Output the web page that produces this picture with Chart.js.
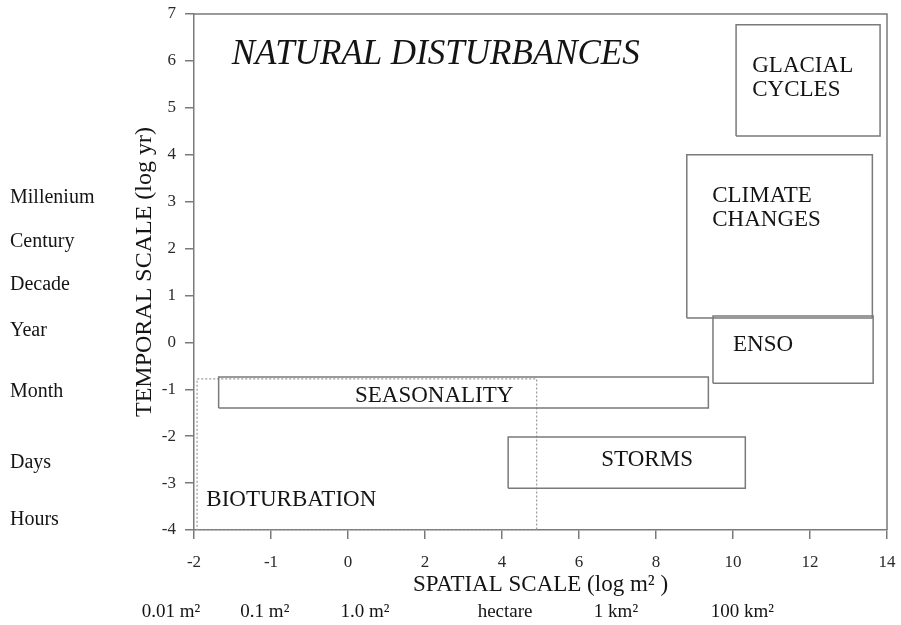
<!DOCTYPE html>
<html>
<head>
<meta charset="utf-8">
<script src="https://cdn.jsdelivr.net/npm/chart.js@4/dist/chart.umd.min.js"></script>
<style>
  html, body { margin: 0; padding: 0; background: #fff; }
  #wrap { width: 901px; height: 625px; }
</style>
</head>
<body>
<div id="wrap"><canvas id="disturbChart" width="901" height="625"></canvas></div>
<script>
// x axis is drawn in tick-index units; labels are not evenly spaced in log m2
const xTickLabels = ['-2', '-1', '0', '2', '4', '6', '8', '10', '12', '14'];

// boxes (x in tick-index units, y in log yr)
const boxNames = ['GLACIAL CYCLES', 'CLIMATE CHANGES', 'ENSO', 'SEASONALITY', 'STORMS', 'BIOTURBATION'];
const boxX0 = [7.04, 6.40, 6.74, 0.32, 4.08, 0.04];
const boxX1 = [8.91, 8.81, 8.82, 6.68, 7.16, 4.45];
const boxY0 = [4.40, 0.52, -0.87, -1.40, -3.11, -4.00];
const boxY1 = [6.77, 4.00, 0.56, -0.74, -2.02, -0.78];

// label text in each box and where it starts
const boxLabels = [['GLACIAL', 'CYCLES'], ['CLIMATE', 'CHANGES'], ['ENSO'], ['SEASONALITY'], ['STORMS'], ['BIOTURBATION']];
const boxLabelX = [7.25, 6.73, 7.00, 2.09, 5.29, 0.16];
const boxLabelY = [5.89, 3.12, -0.06, -1.15, -2.51, -3.36];

const chartTitle = 'NATURAL DISTURBANCES';
const chartTitleX = 0.49;
const chartTitleY = 6.13;

// time names at the far left
const timeNames = ['Millenium', 'Century', 'Decade', 'Year', 'Month', 'Days', 'Hours'];
const timeNameY = [3.08, 2.14, 1.22, 0.24, -1.06, -2.57, -3.79];

// area names under the x axis
const areaNames = ['0.01 m²', '0.1 m²', '1.0 m²', 'hectare', '1 km²', '100 km²'];
const areaNameX = [-0.30, 0.92, 2.22, 4.04, 5.48, 7.12];

const serif = '"Liberation Serif", "DejaVu Serif", serif';
const ink = '#141414';
const lineGrey = '#7a7a7a';

const datasets = boxNames.map((name, i) => ({
    label: name,
    data: [
        { x: boxX0[i], y: boxY0[i] },
        { x: boxX1[i], y: boxY0[i] },
        { x: boxX1[i], y: boxY1[i] },
        { x: boxX0[i], y: boxY1[i] },
        { x: boxX0[i], y: boxY0[i] },
    ],
    showLine: true,
    borderColor: name === 'BIOTURBATION' ? '#9a9a9a' : lineGrey,
    borderWidth: name === 'BIOTURBATION' ? 1.2 : 1.5,
    borderDash: name === 'BIOTURBATION' ? [2, 2] : [],
    pointRadius: 0,
    fill: false,
    tension: 0,
}));

const annotate = {
    id: 'annotate',
    afterDatasetsDraw(chart) {
        const { ctx, chartArea: a, scales: { x, y } } = chart;
        ctx.save();
        // frame on top and right
        ctx.strokeStyle = lineGrey;
        ctx.lineWidth = 1.5;
        ctx.beginPath();
        ctx.moveTo(a.left, a.top);
        ctx.lineTo(a.right, a.top);
        ctx.lineTo(a.right, a.bottom);
        ctx.stroke();

        ctx.fillStyle = ink;
        ctx.textBaseline = 'middle';
        ctx.textAlign = 'left';

        ctx.font = 'italic 35px ' + serif;
        ctx.fillText(chartTitle, x.getPixelForValue(chartTitleX), y.getPixelForValue(chartTitleY));

        ctx.font = '23px ' + serif;
        boxLabels.forEach((lines, i) => {
            const px = x.getPixelForValue(boxLabelX[i]);
            const py = y.getPixelForValue(boxLabelY[i]);
            lines.forEach((t, j) => ctx.fillText(t, px, py + j * 24));
        });

        ctx.font = '20px ' + serif;
        timeNames.forEach((t, i) => ctx.fillText(t, 10, y.getPixelForValue(timeNameY[i])));

        ctx.textAlign = 'center';
        ctx.font = '19px ' + serif;
        areaNames.forEach((t, i) => ctx.fillText(t, x.getPixelForValue(areaNameX[i]), 612));
        ctx.restore();
    }
};

const ctx = document.getElementById('disturbChart').getContext('2d');
const chart = new Chart(ctx, {
    type: 'scatter',
    data: { datasets: datasets },
    plugins: [annotate],
    options: {
        responsive: false,
        animation: false,
        events: [],
        layout: { padding: { top: 14, right: 14, left: 0, bottom: 0 } },
        plugins: { legend: { display: false }, tooltip: { enabled: false } },
        scales: {
            x: {
                type: 'linear',
                min: 0,
                max: 9,
                afterFit: (scale) => {
                    scale.height = 95;
                    scale.paddingLeft = 0;
                    scale.paddingRight = 0;
                },
                ticks: {
                    stepSize: 1,
                    callback: (v) => xTickLabels[v],
                    font: { family: serif, size: 17 },
                    color: '#2a2a2a',
                    padding: 13,
                    maxRotation: 0,
                },
                grid: { drawOnChartArea: false, tickLength: 9, color: lineGrey, lineWidth: 1.5 },
                border: { color: lineGrey, width: 1.5 },
                title: {
                    display: true,
                    text: 'SPATIAL SCALE (log m² )',
                    font: { family: serif, size: 23 },
                    color: ink,
                    padding: { top: 0, bottom: 26 },
                },
            },
            y: {
                type: 'linear',
                min: -4,
                max: 7,
                afterFit: (scale) => {
                    scale.width = 194;
                    scale.paddingTop = 0;
                    scale.paddingBottom = 0;
                },
                ticks: {
                    stepSize: 1,
                    font: { family: serif, size: 17 },
                    color: '#2a2a2a',
                    padding: 9,
                },
                grid: { drawOnChartArea: false, tickLength: 9, color: lineGrey, lineWidth: 1.5 },
                border: { color: lineGrey, width: 1.5 },
                title: {
                    display: true,
                    text: 'TEMPORAL SCALE (log yr)',
                    font: { family: serif, size: 24 },
                    color: ink,
                    padding: { top: 130, bottom: 0 },
                },
            },
        },
    },
});
</script>
</body>
</html>
